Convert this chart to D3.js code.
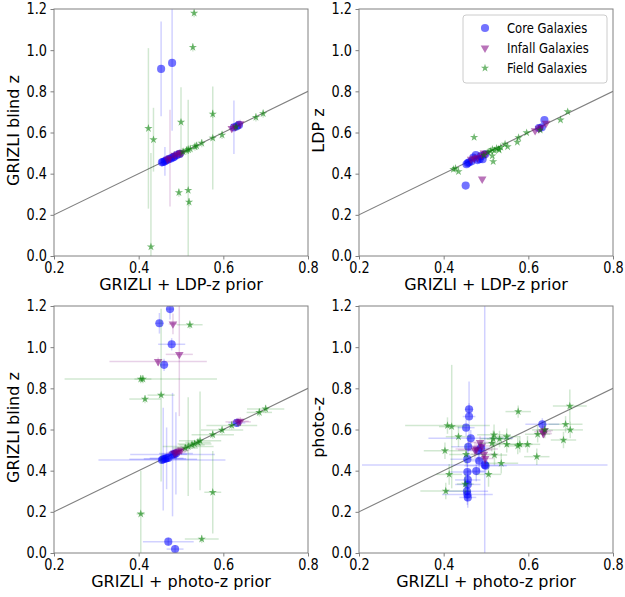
<!DOCTYPE html>
<html><head><meta charset="utf-8">
<script src="https://cdn.jsdelivr.net/npm/d3@7"></script>
<style>body{margin:0;background:#fff}svg{display:block}text{font-family:"DejaVu Sans",sans-serif}</style>
</head><body><svg id="c" width="625" height="597"></svg>
<script>
const xTicks = [0.2, 0.4, 0.6, 0.8];
const yTicks = [0.0, 0.2, 0.4, 0.6, 0.8, 1.0, 1.2];
const seriesNames = ["Core Galaxies", "Infall Galaxies", "Field Galaxies"];
const seriesColors = ["blue", "purple", "green"];
const xLabels = ["GRIZLI + LDP-z prior", "GRIZLI + LDP-z prior", "GRIZLI + photo-z prior", "GRIZLI + photo-z prior"];
const yLabels = ["GRIZLI blind z", "LDP z", "GRIZLI blind z", "photo-z"];

// each point: [x, y, xerr, yerr]
// Panel 1: GRIZLI + LDP-z prior vs GRIZLI blind z
const p1Core = [[0.453,0.909,0,0.23],[0.479,0.938,0,0.33],[0.455,0.455,0,0.02],[0.458,0.457,0,0.02],[0.462,0.46,0,0.07],[0.466,0.465,0,0.02],[0.471,0.47,0,0.02],[0.476,0.474,0,0.02],[0.481,0.479,0,0.02],[0.484,0.482,0,0.02],[0.49,0.49,0,0.02],[0.497,0.496,0,0.02],[0.625,0.625,0,0.13],[0.632,0.63,0,0.02],[0.637,0.637,0,0.02]];
const p1Infall = [[0.474,0.476,0,0.235],[0.468,0.47,0,0.02],[0.485,0.49,0,0.02],[0.492,0.495,0,0.02],[0.498,0.5,0,0.02],[0.502,0.502,0,0.02],[0.62,0.62,0,0.02],[0.628,0.628,0,0.02],[0.64,0.642,0,0.02]];
const p1Field = [[0.423,0.62,0,0.39],[0.435,0.565,0,0.155],[0.429,0.045,0,0.455],[0.531,1.18,0,0.02],[0.528,1.014,0,0.02],[0.50,0.65,0,0.17],[0.495,0.308,0,0.02],[0.517,0.319,0,0.44],[0.519,0.262,0,0.02],[0.575,0.69,0,0.02],[0.575,0.573,0,0.25],[0.505,0.506,0,0.02],[0.513,0.513,0,0.02],[0.517,0.517,0,0.02],[0.522,0.52,0,0.02],[0.533,0.531,0,0.02],[0.537,0.535,0,0.02],[0.549,0.548,0,0.02],[0.597,0.588,0,0.02],[0.63,0.628,0,0.02],[0.677,0.674,0,0.02],[0.694,0.692,0,0.02]];

// Panel 2: GRIZLI + LDP-z prior vs LDP z
const p2Core = [[0.638,0.661,0,0],[0.452,0.342,0,0],[0.454,0.446,0,0],[0.457,0.452,0,0],[0.46,0.455,0,0],[0.466,0.46,0,0],[0.47,0.478,0,0],[0.476,0.49,0,0],[0.48,0.466,0,0],[0.485,0.47,0,0],[0.488,0.485,0,0],[0.492,0.47,0,0],[0.498,0.494,0,0],[0.625,0.622,0,0],[0.632,0.625,0,0]];
const p2Infall = [[0.491,0.374,0,0],[0.465,0.47,0,0],[0.472,0.475,0,0],[0.48,0.48,0,0],[0.49,0.49,0,0],[0.495,0.5,0,0],[0.5,0.497,0,0],[0.616,0.609,0,0],[0.625,0.618,0,0],[0.63,0.625,0,0],[0.642,0.645,0,0]];
const p2Field = [[0.472,0.577,0,0],[0.517,0.459,0,0],[0.515,0.487,0,0],[0.693,0.701,0,0],[0.676,0.661,0,0],[0.574,0.553,0,0],[0.551,0.531,0,0],[0.577,0.575,0,0],[0.596,0.599,0,0],[0.628,0.612,0,0],[0.531,0.515,0,0],[0.545,0.544,0,0],[0.515,0.518,0,0],[0.525,0.523,0,0],[0.423,0.421,0,0],[0.435,0.41,0,0],[0.428,0.426,0,0],[0.505,0.505,0,0],[0.52,0.512,0,0],[0.53,0.52,0,0],[0.535,0.528,0,0],[0.495,0.49,0,0],[0.51,0.51,0,0]];

// Panel 3: GRIZLI + photo-z prior vs GRIZLI blind z
const p3Core = [[0.474,1.185,0.01,0.05],[0.449,1.116,0.01,0.05],[0.478,1.014,0.032,0.03],[0.46,0.914,0.01,0.03],[0.47,0.055,0.06,0.02],[0.486,0.019,0.02,0.02],[0.455,0.452,0.15,0.02],[0.458,0.456,0.08,0.25],[0.462,0.458,0.05,0.02],[0.466,0.46,0.04,0.15],[0.47,0.462,0.02,0.02],[0.48,0.478,0.1,0.3],[0.484,0.48,0.03,0.02],[0.488,0.484,0.04,0.2],[0.632,0.632,0.02,0.02]];
const p3Infall = [[0.481,1.113,0.01,0.05],[0.496,0.965,0.032,0.3],[0.446,0.93,0.115,0.02],[0.485,0.485,0.02,0.02],[0.49,0.49,0.02,0.02],[0.495,0.495,0.02,0.02],[0.5,0.5,0.02,0.02],[0.635,0.637,0.03,0.02],[0.64,0.64,0.02,0.02]];
const p3Field = [[0.521,1.109,0.03,0.02],[0.405,0.845,0.18,0.02],[0.41,0.845,0.02,0.02],[0.453,0.767,0.032,0.42],[0.415,0.748,0.037,0.02],[0.405,0.19,0.01,0.21],[0.575,0.295,0.02,0.2],[0.549,0.068,0.04,0.02],[0.51,0.51,0.03,0.02],[0.517,0.517,0.06,0.24],[0.526,0.525,0.03,0.02],[0.532,0.53,0.04,0.02],[0.54,0.537,0.03,0.02],[0.545,0.545,0.05,0.24],[0.575,0.575,0.05,0.02],[0.597,0.597,0.05,0.02],[0.62,0.62,0.06,0.02],[0.685,0.683,0.03,0.02],[0.7,0.7,0.044,0.02]];

// Panel 4: GRIZLI + photo-z prior vs photo-z
const p4Core = [[0.46,0.698,0.01,0.03],[0.46,0.663,0.015,0.17],[0.453,0.609,0.02,0.04],[0.464,0.557,0.1,0.04],[0.458,0.516,0.04,0.04],[0.456,0.456,0.04,0.04],[0.482,0.497,0.02,0.04],[0.488,0.51,0.02,0.03],[0.484,0.448,0.02,0.05],[0.477,0.398,0.02,0.05],[0.499,0.424,0.05,0.04],[0.497,0.428,0.29,0.8],[0.456,0.393,0.04,0.05],[0.457,0.355,0.03,0.05],[0.457,0.333,0.03,0.05],[0.455,0.30,0.05,0.05],[0.456,0.284,0.06,0.05],[0.457,0.27,0.02,0.05],[0.633,0.625,0.04,0.03]];
const p4Infall = [[0.486,0.537,0.03,0.03],[0.478,0.505,0.05,0.03],[0.474,0.5,0.04,0.04],[0.498,0.459,0.02,0.04],[0.49,0.52,0.03,0.03],[0.495,0.48,0.03,0.03],[0.634,0.589,0.02,0.03],[0.636,0.58,0.02,0.02],[0.638,0.595,0.02,0.02]];
const p4Field = [[0.409,0.619,0.1,0.04],[0.419,0.614,0.03,0.3],[0.435,0.565,0.03,0.05],[0.403,0.497,0.05,0.04],[0.413,0.382,0.03,0.05],[0.405,0.301,0.06,0.04],[0.453,0.479,0.04,0.05],[0.451,0.335,0.02,0.05],[0.506,0.382,0.03,0.06],[0.519,0.574,0.04,0.05],[0.517,0.555,0.03,0.04],[0.52,0.476,0.03,0.05],[0.514,0.533,0.03,0.04],[0.536,0.436,0.04,0.05],[0.532,0.554,0.03,0.04],[0.549,0.565,0.03,0.04],[0.549,0.528,0.03,0.04],[0.576,0.687,0.03,0.03],[0.575,0.52,0.03,0.04],[0.58,0.528,0.03,0.04],[0.598,0.528,0.03,0.04],[0.62,0.468,0.03,0.04],[0.622,0.577,0.03,0.04],[0.639,0.598,0.03,0.04],[0.683,0.549,0.03,0.04],[0.688,0.625,0.04,0.04],[0.698,0.714,0.04,0.08],[0.699,0.598,0.03,0.04]];

const panelData = [
  [p1Core, p1Infall, p1Field],
  [p2Core, p2Infall, p2Field],
  [p3Core, p3Infall, p3Field],
  [p4Core, p4Infall, p4Field]
];

// layout
const layout = [
  {left:54, top:9}, {left:359, top:9}, {left:54, top:306}, {left:359, top:306}
];
const PW = 254, PH = 247;
const GRAY = "#808080";
const TICK_FS = 15.5, TICK_SX = 0.83;
const LAB_FS = 16, LAB_SX = 1.0;

const svg = d3.select("#c");
const symCircle = d3.symbol().type(d3.symbolCircle).size(52);
const symTri = d3.symbol().type(d3.symbolTriangle).size(32);
const symStar = d3.symbol().type(d3.symbolStar).size(21);
const symbols = [symCircle, symTri, symStar];
const rotations = [0, 180, 0];

panelData.forEach((series, pi) => {
  const L = layout[pi];
  const g = svg.append("g").attr("transform", `translate(${L.left},${L.top})`);
  const x = d3.scaleLinear().domain([0.2, 0.8]).range([0, PW]);
  const y = d3.scaleLinear().domain([0, 1.2]).range([PH, 0]);

  const clipId = "clip" + pi;
  g.append("clipPath").attr("id", clipId).append("rect").attr("width", PW).attr("height", PH);
  const plot = g.append("g").attr("clip-path", `url(#${clipId})`);

  plot.append("line")
    .attr("x1", x(0.2)).attr("y1", y(0.2)).attr("x2", x(0.8)).attr("y2", y(0.8))
    .attr("stroke", GRAY).attr("stroke-width", 1.1);

  series.forEach((pts, si) => {
    const col = seriesColors[si];
    const eg = plot.append("g").attr("stroke", col).attr("stroke-opacity", 0.18).attr("stroke-width", 1.5);
    pts.forEach(d => {
      if (d[2] > 0) eg.append("line").attr("x1", x(d[0]-d[2])).attr("x2", x(d[0]+d[2])).attr("y1", y(d[1])).attr("y2", y(d[1]));
      if (d[3] > 0) eg.append("line").attr("x1", x(d[0])).attr("x2", x(d[0])).attr("y1", y(d[1]-d[3])).attr("y2", y(d[1]+d[3]));
    });
    plot.append("g").selectAll("path").data(pts).join("path")
      .attr("d", symbols[si])
      .attr("transform", d => `translate(${x(d[0])},${y(d[1])}) rotate(${rotations[si]})`)
      .attr("fill", col).attr("fill-opacity", 0.55);
  });

  // frame
  g.append("rect").attr("width", PW).attr("height", PH)
    .attr("fill", "none").attr("stroke", GRAY).attr("stroke-width", 1);

  const xa = g.append("g").attr("transform", `translate(0,${PH})`)
    .call(d3.axisBottom(x).tickValues(xTicks).tickFormat(d3.format(".1f")).tickSize(3.5).tickPadding(2.5));
  const ya = g.append("g")
    .call(d3.axisLeft(y).tickValues(yTicks).tickFormat(d3.format(".1f")).tickSize(3.5).tickPadding(3.5));
  [xa, ya].forEach(a => {
    a.select(".domain").remove();
    a.selectAll(".tick line").attr("stroke", GRAY);
    a.selectAll(".tick text").attr("fill", "#000").attr("font-size", TICK_FS)
      .attr("font-family", "DejaVu Sans").attr("transform", `scale(${TICK_SX},1)`);
  });
  ya.selectAll(".tick text").attr("x", -7 / TICK_SX);

  g.append("text").text(xLabels[pi])
    .attr("text-anchor", "middle").attr("font-size", LAB_FS).attr("fill", "#000")
    .attr("transform", `translate(${PW/2},${PH + 34}) scale(${LAB_SX},1)`);
  g.append("text").text(yLabels[pi])
    .attr("text-anchor", "middle").attr("font-size", LAB_FS).attr("fill", "#000")
    .attr("transform", `translate(-35,${PH/2 - 2}) rotate(-90) scale(${LAB_SX},1)`);

  if (pi === 1) {
    const lg = g.append("g").attr("transform", `translate(${PW - 150},6)`);
    lg.append("rect").attr("width", 144).attr("height", 68).attr("rx", 3)
      .attr("fill", "#fff").attr("fill-opacity", 0.8).attr("stroke", "#cccccc");
    seriesNames.forEach((nm, si) => {
      const cy = 13 + si * 20;
      lg.append("path").attr("d", symbols[si])
        .attr("transform", `translate(22,${cy}) rotate(${rotations[si]})`)
        .attr("fill", seriesColors[si]).attr("fill-opacity", 0.55);
      lg.append("text").text(nm).attr("font-size", 13.5).attr("fill", "#000")
        .attr("transform", `translate(44,${cy + 5}) scale(0.86,1)`);
    });
  }
});
</script>
</body></html>
